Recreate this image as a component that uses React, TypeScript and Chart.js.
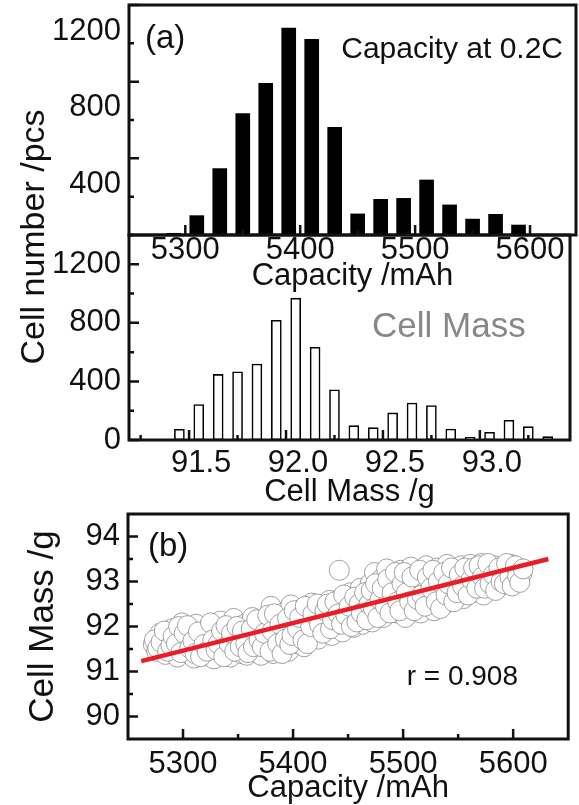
import { useEffect, useRef } from 'react';
import { Chart, registerables } from 'chart.js';

Chart.register(...registerables);

const FAMILY = "'Liberation Sans', Arial, Helvetica, sans-serif";
const INK = '#111111';

// ---- (a) upper histogram: capacity at 0.2C ----
const CAP_BINS = [5290, 5310, 5330, 5350, 5370, 5390, 5410, 5430, 5450, 5470, 5490, 5510, 5530, 5550, 5570, 5590, 5610];
const CAP_COUNTS = [9, 101, 346, 633, 791, 1080, 1021, 562, 110, 186, 191, 287, 157, 83, 108, 52, 4];
const CAP_TICKS = [5300, 5350, 5400, 5450, 5500, 5550, 5600];
const CAP_LABELS = [5300, 5400, 5500, 5600];
const COUNT_A_TICKS = [0, 200, 400, 600, 800, 1000, 1200];
const COUNT_A_LABELS = [400, 800, 1200];

// ---- (a) lower histogram: cell mass ----
const MASS_BINS = [91.45, 91.55, 91.65, 91.75, 91.85, 91.95, 92.05, 92.15, 92.25, 92.35, 92.45, 92.55, 92.65, 92.75, 92.85, 92.95, 93.05, 93.15, 93.25, 93.35];
const MASS_COUNTS = [73, 242, 448, 466, 519, 818, 969, 633, 343, 98, 84, 185, 252, 235, 75, 19, 53, 135, 91, 23];
const MASS_TICKS = [91.25, 91.5, 91.75, 92.0, 92.25, 92.5, 92.75, 93.0, 93.25];
const MASS_LABELS = [91.5, 92.0, 92.5, 93.0];
const COUNT_B_TICKS = [0, 200, 400, 600, 800, 1000, 1200];
const COUNT_B_LABELS = [0, 400, 800, 1200];

// ---- (b) scatter: cell mass vs capacity ----
const SC_CAP = [
  5273, 5276, 5279, 5281, 5284, 5287, 5290, 5292, 5295, 5297, 5299,
  5302, 5305, 5307, 5310, 5312, 5315, 5318, 5320, 5323, 5326, 5328, 5331, 5334, 5336, 5338,
  5341, 5343, 5346, 5348, 5351, 5353, 5356, 5358, 5361, 5363, 5366, 5368, 5371, 5373, 5376, 5378, 5380,
  5382, 5384, 5387, 5389, 5391, 5394, 5396, 5398, 5400, 5403, 5405, 5407, 5410, 5412, 5414, 5417, 5419,
  5421, 5423, 5426, 5428, 5430, 5433, 5435, 5437, 5440, 5442, 5443, 5445, 5447, 5450, 5452, 5455, 5457, 5459,
  5461, 5463, 5466, 5468, 5470, 5472, 5474, 5476, 5478, 5480, 5482, 5485, 5487, 5489, 5491, 5494, 5496, 5498, 5500,
  5502, 5504, 5507, 5509, 5511, 5514, 5516, 5518, 5521, 5523, 5526, 5528, 5531, 5533, 5535, 5538, 5540, 5543, 5545, 5548, 5550, 5553, 5555, 5558,
  5561, 5563, 5566, 5568, 5571, 5573, 5576, 5578, 5581, 5583, 5586, 5588, 5591, 5593, 5596, 5598, 5601, 5603, 5605, 5608,
  5274, 5277, 5280, 5283, 5286, 5289, 5291, 5294, 5296, 5298,
  5301, 5304, 5306, 5309, 5311, 5314, 5316, 5319, 5322, 5325, 5327, 5330, 5332, 5335, 5337, 5339,
  5342, 5344, 5347, 5349, 5352, 5354, 5357, 5359, 5362, 5364, 5367, 5369, 5372, 5374, 5377, 5379,
  5381, 5383, 5386, 5388, 5390, 5393, 5395, 5397, 5399, 5401, 5404, 5406, 5409, 5411, 5413, 5416, 5418,
  5422, 5424, 5427, 5429, 5431, 5434, 5436, 5438, 5441, 5444, 5446, 5448, 5451, 5453, 5456, 5458,
  5460, 5462, 5465, 5467, 5469, 5471, 5473, 5475, 5477, 5479, 5481, 5484, 5486, 5488, 5490, 5493, 5495, 5497, 5499,
  5501, 5503, 5506, 5508, 5510, 5513, 5515, 5517, 5520, 5522, 5525, 5527, 5530, 5532, 5534, 5537, 5539, 5541, 5544, 5546, 5549, 5551, 5554, 5556, 5559,
  5562, 5564, 5567, 5569, 5572, 5574, 5577, 5579, 5582, 5584, 5587, 5589, 5592, 5594, 5597, 5599, 5602, 5604, 5606, 5609,
];
const SC_MASS = [
  91.60, 91.45, 91.85, 91.55, 91.38, 91.72, 91.95, 91.48, 91.32, 91.80, 92.08,
  91.62, 91.40, 91.90, 91.30, 92.05, 91.55, 91.75, 91.35, 91.98, 91.50, 91.28, 91.82, 92.12, 91.42, 91.65,
  91.95, 91.32, 92.18, 91.58, 91.78, 91.40, 92.05, 91.36, 91.68, 92.20, 91.48, 91.88, 91.36, 92.10, 91.60, 91.95, 92.45,
  91.40, 92.15, 91.75, 91.50, 92.30, 91.90, 91.45, 92.48, 92.05, 91.62, 91.85, 92.38, 91.55, 92.12, 91.78, 92.52, 91.95,
  92.25, 91.72, 92.45, 91.90, 92.10, 92.58, 91.80, 92.30, 92.00, 93.25, 92.62, 91.88, 92.40, 92.15, 92.75, 91.98, 92.50, 92.25,
  92.85, 92.05, 92.60, 92.35, 92.95, 92.10, 93.20, 92.70, 92.45, 93.05, 92.20, 93.28, 92.80, 92.55, 93.10, 92.30, 92.90, 93.25, 92.65,
  92.20, 93.00, 93.32, 92.45, 92.80, 93.15, 92.30, 92.95, 93.35, 92.60, 93.05, 92.35, 93.30, 92.75, 93.10, 92.50, 93.38, 92.90, 92.65, 93.20, 92.85, 93.35, 92.62, 93.05,
  93.38, 92.75, 93.15, 92.95, 93.40, 92.70, 93.25, 93.05, 92.85, 93.35, 93.10, 92.90, 93.30, 93.15, 92.95, 93.38, 93.20, 93.05, 93.30, 93.18,
  91.70, 91.52, 91.65, 91.90, 91.45, 91.58, 91.78, 91.62, 92.00, 91.42,
  91.85, 92.02, 91.52, 91.68, 91.40, 91.88, 91.33, 91.60, 91.45, 92.08, 91.70, 91.48, 91.62, 91.90, 91.33, 92.02,
  91.62, 91.85, 91.45, 92.00, 91.55, 91.90, 91.62, 91.42, 91.95, 91.55, 92.15, 91.70, 91.55, 91.85, 92.25, 91.45,
  91.90, 92.28, 91.62, 92.05, 91.40, 91.72, 92.18, 91.60, 91.80, 92.35, 91.95, 92.20, 91.70, 92.45, 91.62, 92.00, 92.28,
  92.50, 92.05, 91.85, 92.35, 92.50, 91.95, 92.15, 92.55, 92.28, 92.05, 92.70, 92.25, 92.45, 92.00, 92.65, 92.10,
  92.50, 92.30, 92.75, 92.15, 92.50, 92.80, 92.40, 92.95, 92.20, 92.60, 92.85, 92.45, 93.05, 92.30, 92.75, 93.20, 92.55, 92.35, 92.95,
  93.20, 92.75, 92.55, 93.10, 92.35, 92.60, 93.25, 92.70, 92.45, 93.10, 92.85, 93.25, 92.55, 93.00, 92.40, 93.20, 92.70, 92.95, 93.30, 92.55, 92.75, 93.15, 92.90, 93.30, 92.70,
  93.05, 93.30, 92.85, 93.35, 93.10, 92.85, 93.40, 92.95, 93.15, 92.80, 93.30, 93.00, 92.95, 93.40, 93.10, 92.90, 93.35, 93.12, 92.98, 93.28,
];
const FIT_X = [5262, 5632];
const FIT_Y = [91.23, 93.5];
const SC_X_TICKS = [5300, 5350, 5400, 5450, 5500, 5550, 5600];
const SC_X_LABELS = [5300, 5400, 5500, 5600];
const SC_Y_TICKS = [90, 90.5, 91, 91.5, 92, 92.5, 93, 93.5, 94];
const SC_Y_LABELS = [90, 91, 92, 93, 94];

const near = (list: number[], v: number) => list.some((u) => Math.abs(u - v) < 1e-6);

function linAxis(cfg: any) {
  return {
    type: 'linear',
    min: cfg.min,
    max: cfg.max,
    offset: false,
    grid: { display: false, drawTicks: false, offset: false },
    border: { display: false },
    afterBuildTicks: (s: any) => {
      s.ticks = cfg.ticks.map((value: number) => ({ value }));
    },
    afterFit: (s: any) => {
      if (cfg.horizontal) s.height = cfg.fit;
      else s.width = cfg.fit;
      s.paddingTop = 0;
      s.paddingBottom = 0;
      s.paddingLeft = 0;
      s.paddingRight = 0;
    },
    ticks: {
      autoSkip: false,
      maxRotation: 0,
      minRotation: 0,
      padding: cfg.padding,
      labelOffset: cfg.labelOffset || 0,
      color: INK,
      font: { family: FAMILY, size: 31, lineHeight: 1 },
      callback: (v: any) => {
        const n = Number(v);
        if (!near(cfg.labels, n)) return '';
        return cfg.fmt ? cfg.fmt(n) : String(n);
      },
    },
    title: cfg.title
      ? {
          display: true,
          text: cfg.title,
          color: INK,
          font: { family: FAMILY, size: cfg.titleSize || 31, lineHeight: 1 },
          padding: { top: cfg.titleTop || 0, bottom: cfg.titleBottom || 0 },
        }
      : { display: false },
  };
}

type Txt = { text: string; x: number; y: number; size: number; align: CanvasTextAlign; color?: string; rotate?: boolean };

function framePlugin(xMajor: number[], yMajor: number[], texts: Txt[]) {
  return {
    id: 'frameTicks',
    afterDatasetsDraw(chart: any) {
      const { ctx, chartArea: a } = chart;
      const xs = chart.scales.x;
      const ys = chart.scales.y;
      ctx.save();
      ctx.strokeStyle = INK;
      ctx.lineWidth = 2.5;
      ctx.beginPath();
      xs.ticks.forEach((t: any) => {
        const p = xs.getPixelForValue(t.value);
        const len = near(xMajor, t.value) ? 10 : 5;
        ctx.moveTo(p, a.bottom);
        ctx.lineTo(p, a.bottom - len);
      });
      ys.ticks.forEach((t: any) => {
        const p = ys.getPixelForValue(t.value);
        const len = near(yMajor, t.value) ? 10 : 5;
        ctx.moveTo(a.left, p);
        ctx.lineTo(a.left + len, p);
      });
      ctx.stroke();
      ctx.lineWidth = 3;
      ctx.strokeRect(a.left, a.top, a.right - a.left, a.bottom - a.top);
      ctx.restore();
    },
    afterDraw(chart: any) {
      const ctx = chart.ctx;
      texts.forEach((t) => {
        ctx.save();
        ctx.fillStyle = t.color || INK;
        ctx.font = `${t.size}px ${FAMILY}`;
        ctx.textAlign = t.align;
        ctx.textBaseline = t.rotate ? 'middle' : 'alphabetic';
        ctx.translate(t.x, t.y);
        if (t.rotate) ctx.rotate(-Math.PI / 2);
        ctx.fillText(t.text, 0, 0);
        ctx.restore();
      });
    },
  };
}

const base = {
  animation: false,
  responsive: false,
  events: [],
  plugins: { legend: { display: false }, tooltip: { enabled: false } },
};

function makeTop(canvas: HTMLCanvasElement) {
  return new Chart(canvas, {
    type: 'bar',
    data: {
      datasets: [
        {
          data: CAP_BINS.map((x, i) => ({ x, y: CAP_COUNTS[i] })),
          backgroundColor: '#000000',
          borderWidth: 0,
          barThickness: 14,
        },
      ],
    },
    options: {
      ...base,
      layout: { padding: { top: 5, right: 3, left: 0, bottom: 0 } },
      scales: {
        x: linAxis({ min: 5251, max: 5640, ticks: CAP_TICKS, labels: CAP_LABELS, fit: 65, horizontal: true, padding: 0, title: 'Capacity /mAh', titleBottom: 8 }),
        y: linAxis({ min: 0, max: 1200, ticks: COUNT_A_TICKS, labels: COUNT_A_LABELS, fit: 129, horizontal: false, padding: 8, labelOffset: 26 }),
      },
    } as any,
    plugins: [
      framePlugin(CAP_LABELS, COUNT_A_LABELS, [
        { text: '(a)', x: 145, y: 48, size: 33, align: 'left' },
        { text: 'Capacity at 0.2C', x: 563, y: 58, size: 30, align: 'right' },
      ]),
    ],
  } as any);
}

function makeMiddle(canvas: HTMLCanvasElement) {
  return new Chart(canvas, {
    type: 'bar',
    data: {
      datasets: [
        {
          data: MASS_BINS.map((x, i) => ({ x, y: MASS_COUNTS[i] })),
          backgroundColor: '#ffffff',
          borderColor: '#000000',
          borderWidth: 1.6,
          borderSkipped: false,
          barThickness: 10,
        },
      ],
    },
    options: {
      ...base,
      layout: { padding: { top: 235, right: 9, left: 0, bottom: 0 } },
      scales: {
        x: linAxis({ min: 91.19, max: 93.465, ticks: MASS_TICKS, labels: MASS_LABELS, fmt: (v: number) => v.toFixed(1), fit: 80, horizontal: true, padding: 7.5, labelOffset: 12, title: 'Cell Mass /g', titleBottom: 12 }),
        y: linAxis({ min: 0, max: 1400, ticks: COUNT_B_TICKS, labels: COUNT_B_LABELS, fit: 129, horizontal: false, padding: 8 }),
      },
    } as any,
    plugins: [
      framePlugin(MASS_LABELS, COUNT_B_LABELS, [
        { text: 'Cell Mass', x: 372, y: 337, size: 35, align: 'left', color: '#878787' },
        { text: 'Cell number /pcs', x: 35, y: 237, size: 34, align: 'center', rotate: true },
      ]),
    ],
  } as any);
}

function makeBottom(canvas: HTMLCanvasElement) {
  return new Chart(canvas, {
    type: 'scatter',
    data: {
      datasets: [
        {
          type: 'line',
          data: FIT_X.map((x, i) => ({ x, y: FIT_Y[i] })),
          borderColor: '#ec1c24',
          borderWidth: 4.5,
          pointRadius: 0,
          fill: false,
          order: 0,
        },
        {
          data: SC_CAP.map((x, i) => ({ x, y: SC_MASS[i] })),
          pointRadius: 10,
          backgroundColor: '#ffffff',
          borderColor: '#8a8a8a',
          borderWidth: 0.8,
          order: 1,
        },
      ],
    },
    options: {
      ...base,
      layout: { padding: { top: 34, right: 3, left: 0, bottom: 0 } },
      scales: {
        x: linAxis({ min: 5250, max: 5650, ticks: SC_X_TICKS, labels: SC_X_LABELS, fit: 66, horizontal: true, padding: 9.5, title: 'Capacity /mAh', titleBottom: 1 }),
        y: linAxis({ min: 89.5, max: 94.5, ticks: SC_Y_TICKS, labels: SC_Y_LABELS, fit: 128, horizontal: false, padding: 8, title: 'Cell Mass /g', titleSize: 35, titleTop: 26 }),
      },
    } as any,
    plugins: [
      framePlugin(SC_X_LABELS, SC_Y_LABELS, [
        { text: '(b)', x: 148, y: 76, size: 33, align: 'left' },
        { text: 'r = 0.908', x: 518, y: 205, size: 28, align: 'right' },
      ]),
    ],
  } as any);
}

export default function App() {
  const refA = useRef<HTMLCanvasElement>(null);
  const refB = useRef<HTMLCanvasElement>(null);
  const refC = useRef<HTMLCanvasElement>(null);

  useEffect(() => {
    const charts = [makeMiddle(refB.current!), makeTop(refA.current!), makeBottom(refC.current!)];
    return () => charts.forEach((c) => c.destroy());
  }, []);

  const cs = { position: 'absolute' as const, left: 0, display: 'block' };
  return (
    <div style={{ position: 'absolute', left: 0, top: 0, width: 579, height: 805, background: '#ffffff', overflow: 'hidden' }}>
      <canvas ref={refB} width={579} height={520} style={{ ...cs, top: 0 }} />
      <canvas ref={refA} width={579} height={300} style={{ ...cs, top: 0 }} />
      <canvas ref={refC} width={579} height={325} style={{ ...cs, top: 480 }} />
    </div>
  );
}
